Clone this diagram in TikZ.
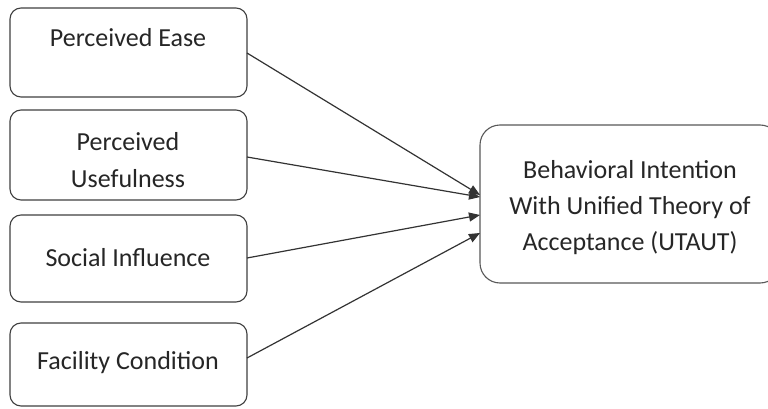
\documentclass[tikz,border=0pt]{standalone}
\usepackage{fontspec}
\setmainfont{Carlito}
\usetikzlibrary{arrows.meta}
\begin{document}
\begin{tikzpicture}[x=1pt,y=-1pt,
  box/.style={draw=black!75, line width=1.1pt, rounded corners=11pt},
  bigbox/.style={draw=black!65, line width=1.1pt, rounded corners=20pt},
  lbl/.style={font=\fontsize{26}{40}\selectfont, text=black!85, align=center, inner sep=0pt},
  conn/.style={draw=black!80, line width=1.2pt, -{Triangle[length=11pt,width=9pt]}}
]
\useasboundingbox (0,0) rectangle (768,409);
\fill[white] (0,0) rectangle (768,409);
% boxes
\draw[box] (10,8) rectangle (247,97);
\draw[box] (10,110) rectangle (247,200);
\draw[box] (10,215) rectangle (247,302);
\draw[box] (10,323) rectangle (247,406);
\draw[bigbox] (480,125) rectangle (780,283);
% labels
\node[lbl] (pe) at (128,38) {Perceived Ease};
\node[lbl] (pu) at (128,160) {Perceived\\[-3pt]Usefulness};
\node[lbl] (si) at (128,258) {Social Influence};
\node[lbl] (fc) at (128,363) {Facility Condition};
\node[lbl, font=\fontsize{26}{36}\selectfont] (bi) at (630,208) {Behavioral Intention\\With Unified Theory of\\Acceptance (UTAUT)};
% connector anchors
\coordinate (s1) at (247,53);
\coordinate (s2) at (247,157);
\coordinate (s3) at (247,258);
\coordinate (s4) at (247,358);
\coordinate (e1) at (480,195);
\coordinate (e2) at (480,197);
\coordinate (e3) at (480,215);
\coordinate (e4) at (480,233);
\draw[conn] (s1) -- (e1);
\draw[conn] (s2) -- (e2);
\draw[conn] (s3) -- (e3);
\draw[conn] (s4) -- (e4);
\end{tikzpicture}
\end{document}
